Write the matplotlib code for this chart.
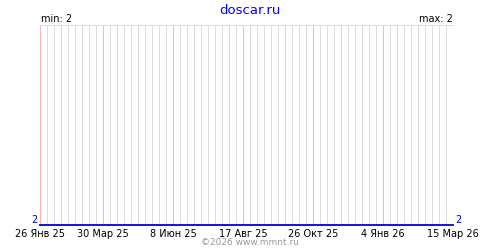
import matplotlib
matplotlib.use("Agg")
import matplotlib.pyplot as plt
import datetime as dt

# data
dates = ["2025-01-26", "2025-03-15", "2025-06-08", "2025-09-01", "2025-12-01", "2026-03-15"]
values = [2, 2, 2, 2, 2, 2]
tick_dates = ["2025-01-26", "2025-03-30", "2025-06-08", "2025-08-17",
              "2025-10-26", "2026-01-04", "2026-03-15"]
tick_labels = ["26 Янв 25", "30 Мар 25", "8 Июн 25", "17 Авг 25",
               "26 Окт 25", "4 Янв 26", "15 Мар 26"]
title = "doscar.ru"
footer = "©2026 www.mmnt.ru"

x = [dt.datetime.fromisoformat(d) for d in dates]
ticks = [dt.datetime.fromisoformat(d) for d in tick_dates]
start, end = x[0], x[-1]

fig = plt.figure(figsize=(5, 2.5), dpi=100)
ax = fig.add_axes([0.08, 0.1, 0.826, 0.8])

# weekly grid lines, pink ones on the labelled dates
week = start
while week <= end:
    if week not in ticks:
        ax.axvline(week, color="#dddddd", lw=0.72, zorder=1, snap=True)
    week += dt.timedelta(days=7)
for t in ticks:
    ax.axvline(t, color="#ffb4b4", lw=0.72, zorder=2, snap=True)

ax.plot(x, values, color="#0000dd", lw=1.3, zorder=3, clip_on=False)

ax.set_xlim(start, end)
ax.set_ylim(2, 3)
ax.set_xticks(ticks)
ax.set_xticklabels(tick_labels, fontsize=7)
ax.tick_params(axis="x", length=0, pad=3)
ax.set_yticks([])

# min value labels on both sides, sitting on the line
ax.text(-0.005, 2, str(min(values)), transform=ax.get_yaxis_transform(),
        ha="right", va="bottom", fontsize=7, color="#0000cc")
ax.text(1.005, 2, str(min(values)), transform=ax.get_yaxis_transform(),
        ha="left", va="bottom", fontsize=7, color="#0000cc")

for s in ["left", "right", "bottom"]:
    ax.spines[s].set_visible(False)
ax.spines["top"].set_color("#dddddd")
ax.spines["top"].set_linewidth(0.72)

fig.text(0.5, 0.96, title, ha="center", va="center", color="#0000ff", fontsize=9.5)
fig.text(0.082, 0.925, "min: %d" % min(values), ha="left", va="center", fontsize=7)
fig.text(0.905, 0.925, "max: %d" % max(values), ha="right", va="center", fontsize=7)
fig.text(0.5, 0.03, footer, ha="center", va="center", color="#999999", fontsize=6.5)

fig.savefig("out.png", dpi=100)
